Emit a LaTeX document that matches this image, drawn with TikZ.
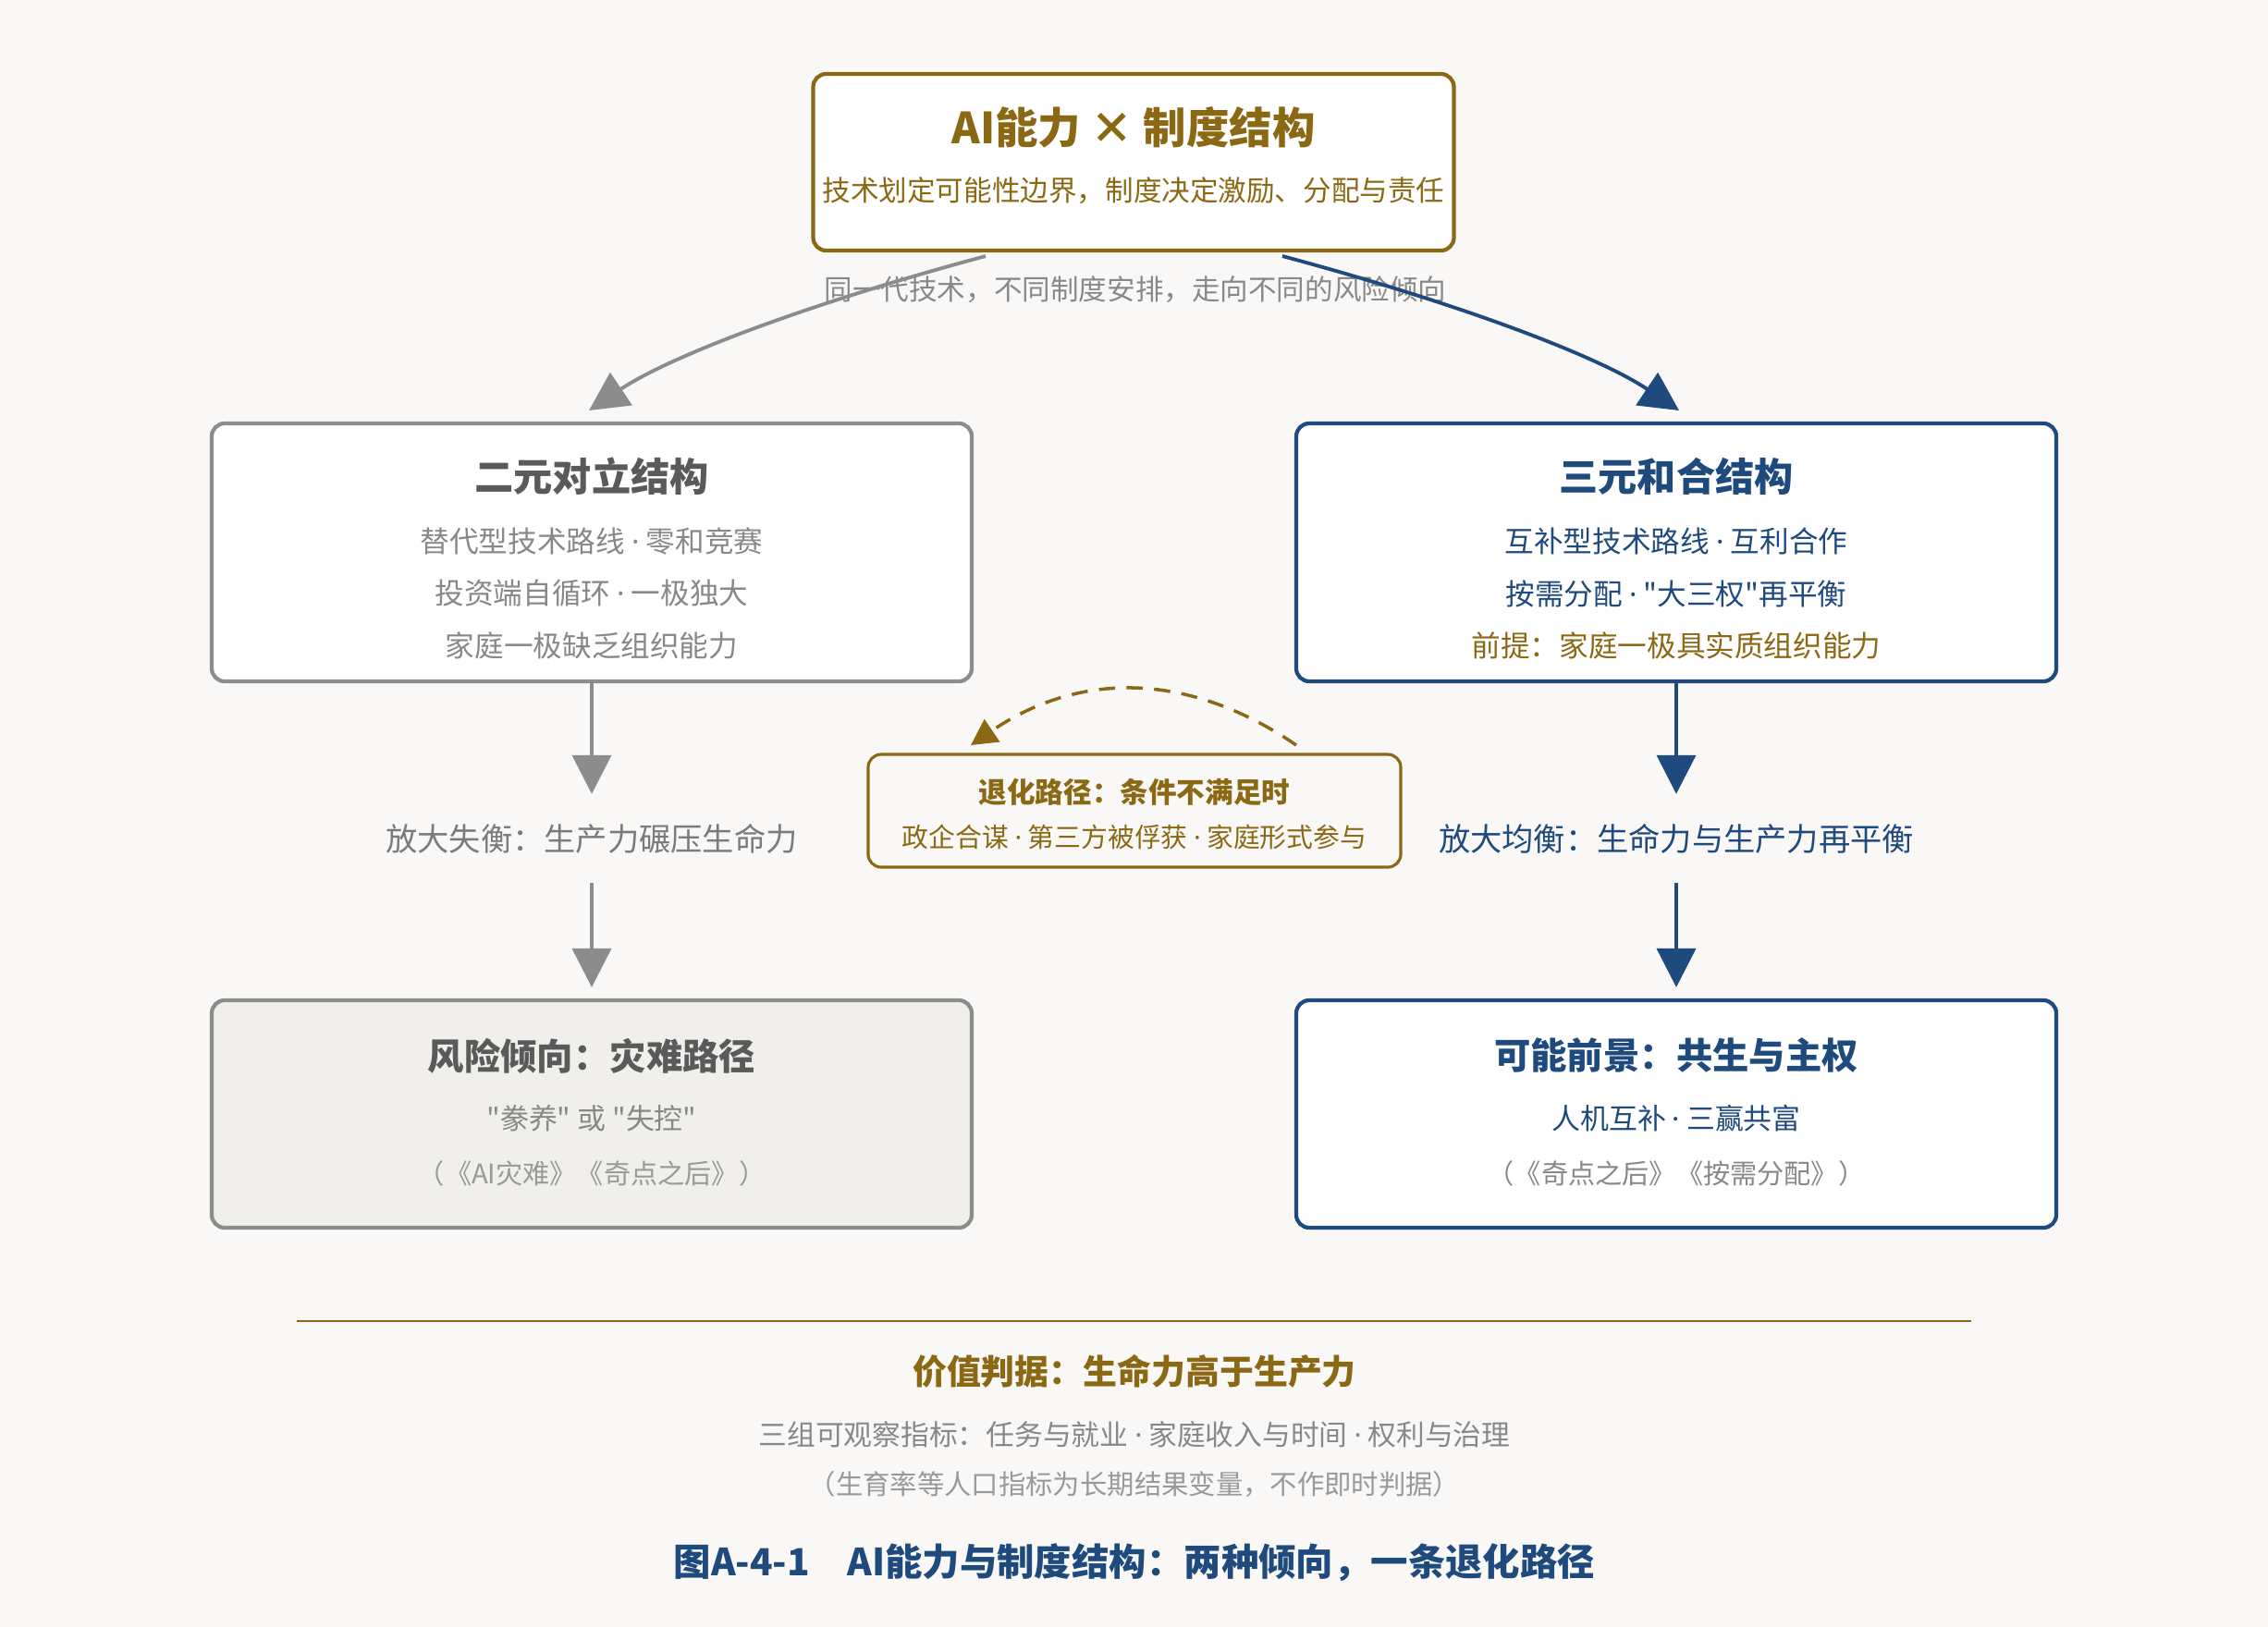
\documentclass[tikz,border=0pt]{standalone}
\usepackage{fontspec}
\setmainfont{Noto Sans CJK SC}[Ligatures=TeXOff]
\newfontfamily\latinfont{Noto Sans}[Ligatures=TeXOff]
\newcommand\mdot{{\latinfont ·}}
\usepackage{tikz}
\usetikzlibrary{arrows.meta}
\tikzset{box/.style = {draw, rounded corners=0.14cm, line width=1.2pt, fill=white, inner sep=0pt},
         flow/.style = {line width=1.1pt, -{Triangle[length=4.2mm, width=4.2mm]}},
         amp/.style = {font=\fontsize{9.75}{12}\selectfont, minimum height=0.95cm, inner sep=0pt},
         head/.style = {font=\bfseries\fontsize{12}{14}\selectfont},
         line/.style = {font=\fontsize{9}{11}\selectfont},
         small/.style = {font=\fontsize{8.3}{10}\selectfont}}
\definecolor{mgold}{HTML}{8B6914}
\definecolor{mblue}{HTML}{1F4A7D}
\definecolor{mgrey}{HTML}{8C8C8C}
\definecolor{dgrey}{HTML}{5A5A5A}
\definecolor{tgrey}{HTML}{888888}
\definecolor{lgrey}{HTML}{999999}
\definecolor{mbg}{HTML}{F9F8F6}
\definecolor{mfill}{HTML}{F0EFEB}

\begin{document}
\begin{tikzpicture}[x=1cm, y=-1cm]
      \fill [mbg] (0, 0) rectangle (24.53, 17.60);
      \useasboundingbox (0, 0) rectangle (24.53, 17.60);

      \node [box, draw=mgold, minimum width=6.93cm, minimum height=1.91cm] (core) at (12.26, 1.755) {};
      \node [mgold, font=\bfseries\fontsize{13.2}{15}\selectfont] (coretitle) at (12.26, 1.38) {AI能力 × 制度结构};
      \node [mgold, font=\fontsize{8.7}{11}\selectfont] (coretext) at (12.26, 2.06) {技术划定可能性边界，制度决定激励、分配与责任};
      \node [tgrey, font=\fontsize{8.7}{11}\selectfont] (split) at (12.28, 3.13) {同一代技术，不同制度安排，走向不同的风险倾向};

      \node [box, draw=mgrey, minimum width=8.22cm, minimum height=2.79cm] (dual) at (6.40, 5.975) {};
      \node [head, dgrey] (dualtitle) at (6.40, 5.15) {二元对立结构};
      \node [line, tgrey] (duala) at (6.40, 5.85) {替代型技术路线 \mdot{} 零和竞赛};
      \node [line, tgrey] (dualb) at (6.40, 6.42) {投资端自循环 \mdot{} 一极独大};
      \node [line, tgrey] (dualc) at (6.40, 6.98) {家庭一极缺乏组织能力};

      \node [box, draw=mblue, minimum width=8.22cm, minimum height=2.79cm] (tri) at (18.13, 5.975) {};
      \node [head, mblue] (trititle) at (18.13, 5.15) {三元和合结构};
      \node [line, mblue] (tria) at (18.13, 5.85) {互补型技术路线 \mdot{} 互利合作};
      \node [line, mblue] (trib) at (18.13, 6.42) {按需分配 \mdot{} "大三权"再平衡};
      \node [line, mgold] (tric) at (18.13, 6.98) {前提：家庭一极具实质组织能力};

      \coordinate (dualfrom) at (10.66, 2.77);
      \coordinate (dualto) at (6.37, 4.44);
      \coordinate (trifrom) at (13.87, 2.77);
      \coordinate (trito) at (18.16, 4.44);
      \draw [flow, mgrey] (dualfrom) .. controls (8.65, 3.31) and (7.22, 3.87) .. (dualto);
      \draw [flow, mblue] (trifrom) .. controls (15.88, 3.31) and (17.31, 3.87) .. (trito);

      \node [amp, dgrey!80] (dualamp) at (6.40, 9.07) {放大失衡：生产力碾压生命力};
      \node [amp, mblue] (triamp) at (18.13, 9.07) {放大均衡：生命力与生产力再平衡};

      \node [box, draw=mgold, fill=mbg, line width=0.9pt, minimum width=5.76cm, minimum height=1.22cm] (relapse) at (12.27, 8.77) {};
      \node [mgold, font=\bfseries\fontsize{8.7}{11}\selectfont] (relapsetitle) at (12.27, 8.57) {退化路径：条件不满足时};
      \node [mgold, font=\fontsize{8.2}{10}\selectfont] (relapsetext) at (12.27, 9.05) {政企合谋 \mdot{} 第三方被俘获 \mdot{} 家庭形式参与};
      \coordinate (relfrom) at (14.02, 8.06);
      \coordinate (relto) at (10.50, 8.06);
      \draw [mgold, line width=1pt, dash pattern=on 5pt off 3.5pt, -{Triangle[length=2.8mm, width=2.9mm]}] (relfrom) .. controls (12.85, 7.26) and (11.67, 7.26) .. (relto);

      \node [box, draw=mgrey, fill=mfill, minimum width=8.22cm, minimum height=2.46cm] (risk) at (6.40, 12.05) {};
      \node [dgrey, font=\bfseries\fontsize{11.2}{13}\selectfont] (risktitle) at (6.40, 11.42) {风险倾向：灾难路径};
      \node [tgrey, font=\fontsize{8.8}{10}\selectfont] (riska) at (6.40, 12.10) {"豢养" 或 "失控"};
      \node [small, lgrey] (riskb) at (6.40, 12.69) {（《AI灾难》《奇点之后》）};

      \node [box, draw=mblue, minimum width=8.22cm, minimum height=2.46cm] (hope) at (18.13, 12.05) {};
      \node [mblue, font=\bfseries\fontsize{11.2}{13}\selectfont] (hopetitle) at (18.13, 11.42) {可能前景：共生与主权};
      \node [mblue, font=\fontsize{8.8}{10}\selectfont] (hopea) at (18.13, 12.10) {人机互补 \mdot{} 三赢共富};
      \node [small, tgrey] (hopeb) at (18.13, 12.69) {（《奇点之后》《按需分配》）};

      \draw [flow, mgrey] (dual) -- (dualamp);
      \draw [flow, mgrey, shorten >=0.12cm] (dualamp) -- (risk);
      \draw [flow, mblue] (tri) -- (triamp);
      \draw [flow, mblue, shorten >=0.12cm] (triamp) -- (hope);

      \draw [mgold, line width=0.7pt] (3.21, 14.29) -- (21.32, 14.29);
      \node [mgold, font=\bfseries\fontsize{10.5}{12}\selectfont] (value) at (12.27, 14.83) {价值判据：生命力高于生产力};
      \node [tgrey, font=\fontsize{8.75}{10}\selectfont] (gauge) at (12.27, 15.52) {三组可观察指标：任务与就业 \mdot{} 家庭收入与时间 \mdot{} 权利与治理};
      \node [lgrey, font=\fontsize{8.35}{10}\selectfont] (gaugenote) at (12.27, 16.05) {（生育率等人口指标为长期结果变量，不作即时判据）};
      \node [mblue, font=\bfseries\fontsize{11.5}{13}\selectfont] (caption) at (12.27, 16.90) {图A-4-1　AI能力与制度结构：两种倾向，一条退化路径};
    \end{tikzpicture}
\end{document}
